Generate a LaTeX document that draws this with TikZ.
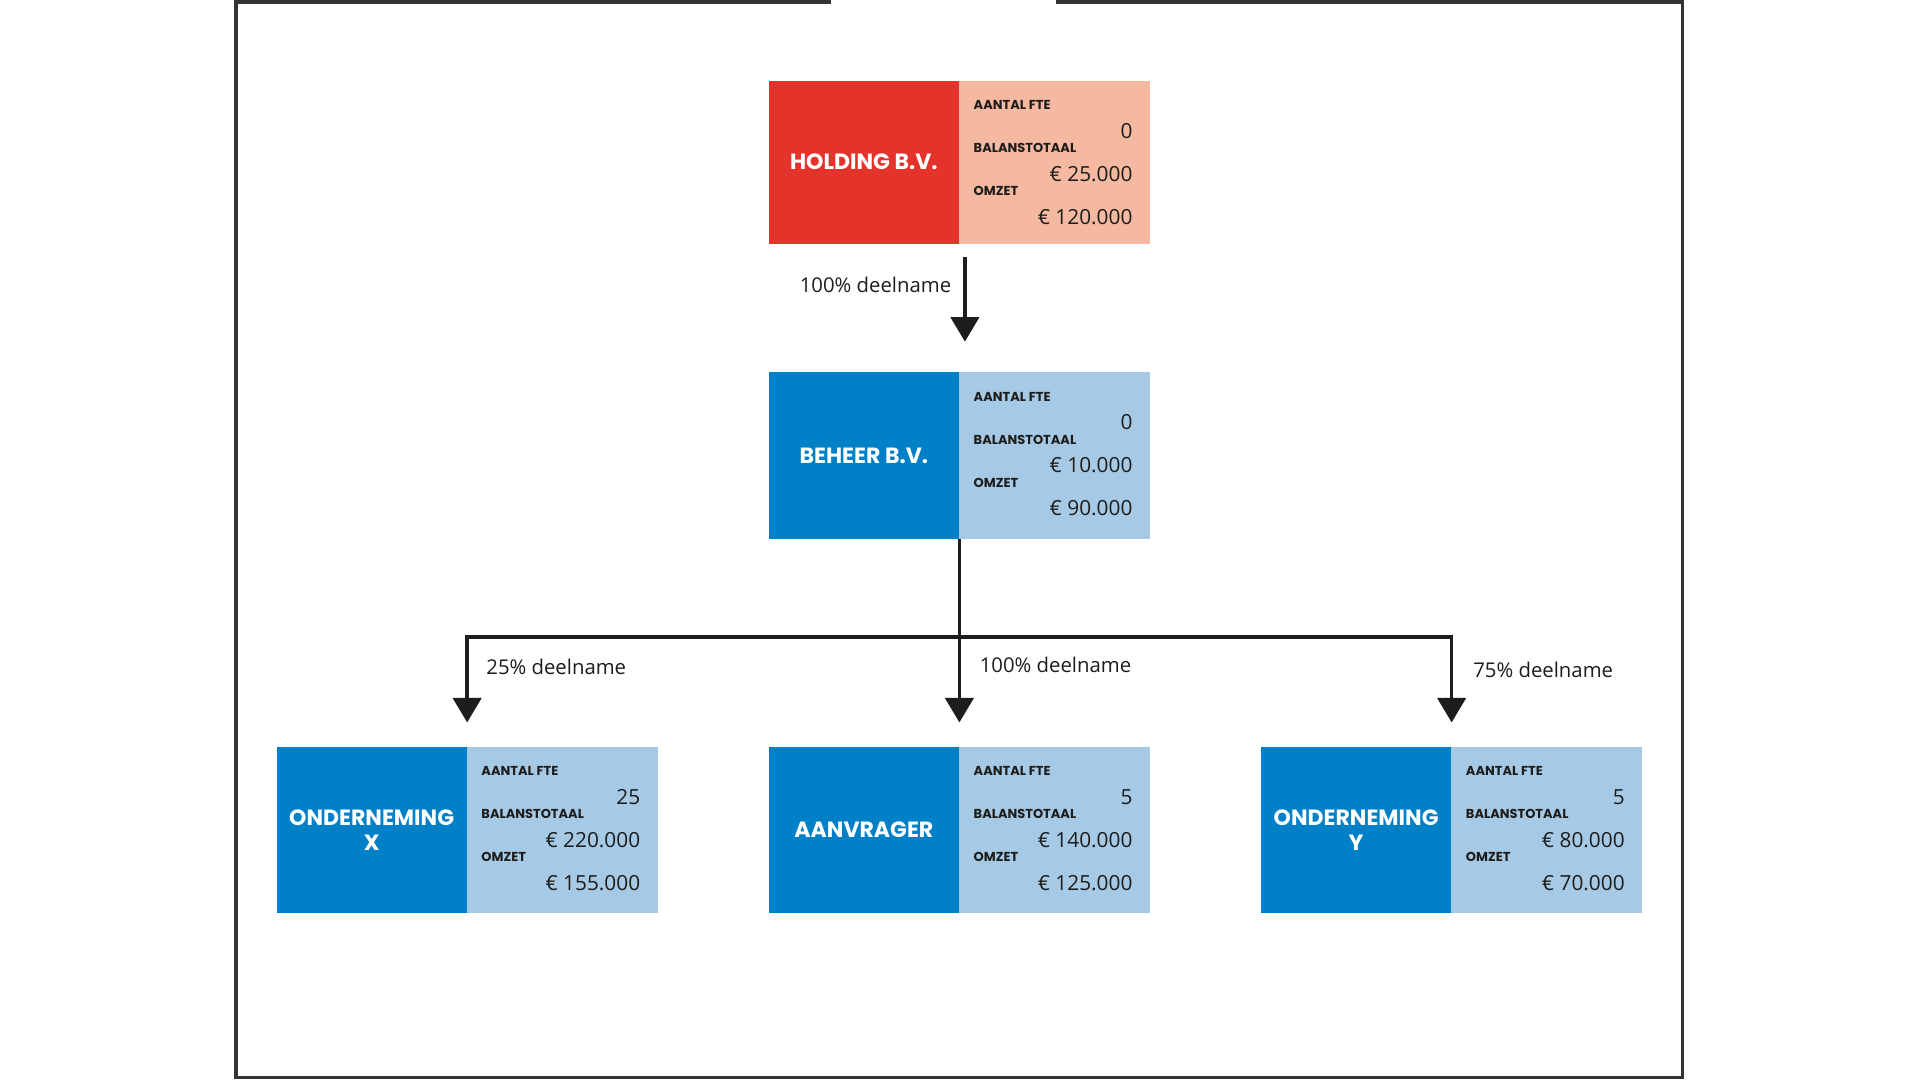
\documentclass[tikz,border=0pt]{standalone}
\usepackage{fontspec}
\setmainfont{Open Sans}
\newfontfamily\headfont{Poppins}
\usetikzlibrary{arrows.meta}
\definecolor{hred}{HTML}{E4332B}
\definecolor{hsalmon}{HTML}{F5B8A0}
\definecolor{bblue}{HTML}{0080C6}
\definecolor{lblue}{HTML}{A6C9E6}
\definecolor{ink}{HTML}{1D1D1B}
\newcommand\orgboxh{136pt}
\tikzset{
  fullbox/.style={inner sep=0pt, outer sep=0pt, minimum width=311pt, minimum height=\orgboxh},
  namebox/.style={inner sep=0pt, outer sep=0pt, minimum width=155pt, minimum height=\orgboxh,
    text=white, align=center, font=\headfont\bfseries\fontsize{18}{20}\selectfont},
  lab/.style={inner sep=0pt, anchor=west, text=ink, font=\headfont\bfseries\fontsize{10.6}{12}\selectfont},
  val/.style={inner sep=0pt, anchor=east, text=ink, font=\fontsize{17}{20}\selectfont},
  pct/.style={inner sep=0pt, text=ink, font=\fontsize{16.6}{20}\selectfont},
  conn/.style={draw=ink, line width=3pt},
  arr/.style={conn, -{Triangle[width=23pt,length=20pt]}},
  frame/.style={draw=ink!90, line width=3pt}
}
\newcommand\orgbox[9]{%
  \node[fullbox, fill=#5] (#1) at (#2,#3) {};
  \node[namebox, fill=#4, anchor=west] (#1-name) at (#1.west) {#6};
  \node[lab] (#1-l1) at ([xshift=12pt,yshift=-20pt]#1-name.north east) {AANTAL FTE};
  \node[lab] (#1-l2) at ([xshift=12pt,yshift=-55pt]#1-name.north east) {BALANSTOTAAL};
  \node[lab] (#1-l3) at ([xshift=12pt,yshift=-90pt]#1-name.north east) {OMZET};
  \node[val] (#1-v1) at ([xshift=-14pt,yshift=-41pt]#1.north east) {#7};
  \node[val] (#1-v2) at ([xshift=-14pt,yshift=-76pt]#1.north east) {#8};
  \node[val] (#1-v3) at ([xshift=-14pt,yshift=-111pt]#1.north east) {#9};
}
\begin{document}
\begin{tikzpicture}[x=1pt,y=-1pt]
\useasboundingbox (0,0) rectangle (1568,882);
\fill[white] (0,0) rectangle (1568,882);
% frame with gap at the top
\coordinate (fa) at (679,1.5);
\coordinate (fb) at (862,1.5);
\draw[frame] (fa) -- (193,1.5) -- (193,880) -- (1374,880) -- (1374,1.5) -- (fb);

\renewcommand\orgboxh{133pt}
\orgbox{holding}{783.5}{132.5}{hred}{hsalmon}{HOLDING B.V.}{0}{€ 25.000}{€ 120.000}
\renewcommand\orgboxh{136pt}
\orgbox{beheer}{783.5}{372}{bblue}{lblue}{BEHEER B.V.}{0}{€ 10.000}{€ 90.000}
\orgbox{ondx}{381.5}{678}{bblue}{lblue}{ONDERNEMING\\X}{25}{€ 220.000}{€ 155.000}
\orgbox{aanvrager}{783.5}{678}{bblue}{lblue}{AANVRAGER}{5}{€ 140.000}{€ 125.000}
\orgbox{ondy}{1185.5}{678}{bblue}{lblue}{ONDERNEMING\\Y}{5}{€ 80.000}{€ 70.000}

% holding -> beheer
\draw[arr] ([xshift=4.5pt,yshift=-11pt]holding.south) -- ([xshift=4.5pt,yshift=25pt]beheer.north);
\node[pct, anchor=east] (l0) at (777,233) {100\% deelname};

% beheer -> subsidiaries
\coordinate (junc) at (783.5,520);
\draw[conn] (beheer.south) -- (junc);
\draw[arr] (junc) -| ([yshift=20pt]ondx.north);
\draw[arr] (junc) -- ([yshift=20pt]aanvrager.north);
\draw[arr] (junc) -| ([yshift=20pt]ondy.north);
\node[pct, anchor=west] (l1) at (397,545) {25\% deelname};
\node[pct, anchor=west] (l2) at (800,543) {100\% deelname};
\node[pct, anchor=west] (l3) at (1203,547) {75\% deelname};
\end{tikzpicture}
\end{document}
